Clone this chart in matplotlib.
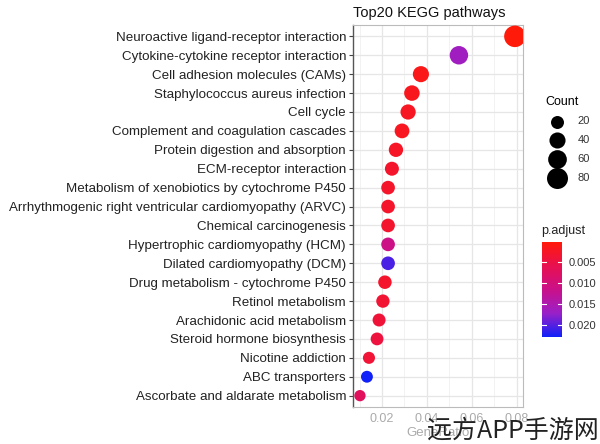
import numpy as np
import matplotlib
matplotlib.use('Agg')
import matplotlib.pyplot as plt
from matplotlib.colors import LinearSegmentedColormap, Normalize
from matplotlib.ticker import MultipleLocator

plt.rcParams['font.family'] = ['Liberation Sans', 'DejaVu Sans']

# KEGG terms, top to bottom
pathways = [
    'Neuroactive ligand-receptor interaction',
    'Cytokine-cytokine receptor interaction',
    'Cell adhesion molecules (CAMs)',
    'Staphylococcus aureus infection',
    'Cell cycle',
    'Complement and coagulation cascades',
    'Protein digestion and absorption',
    'ECM-receptor interaction',
    'Metabolism of xenobiotics by cytochrome P450',
    'Arrhythmogenic right ventricular cardiomyopathy (ARVC)',
    'Chemical carcinogenesis',
    'Hypertrophic cardiomyopathy (HCM)',
    'Dilated cardiomyopathy (DCM)',
    'Drug metabolism - cytochrome P450',
    'Retinol metabolism',
    'Arachidonic acid metabolism',
    'Steroid hormone biosynthesis',
    'Nicotine addiction',
    'ABC transporters',
    'Ascorbate and aldarate metabolism',
]
gene_ratio = [0.0791, 0.0542, 0.0373, 0.0333, 0.0316, 0.0289, 0.0262, 0.0244,
              0.0227, 0.0227, 0.0227, 0.0227, 0.0227, 0.0213, 0.0204, 0.0187,
              0.0178, 0.0142, 0.0133, 0.0102]
counts = [85, 58, 40, 36, 34, 31, 28, 26, 24, 24, 24, 24, 24, 23, 22, 20,
          19, 15, 14, 11]
p_adjust = [0.0002, 0.0165, 0.0015, 0.0018, 0.0022, 0.0020, 0.0025, 0.0030,
            0.0028, 0.0030, 0.0032, 0.0112, 0.0205, 0.0030, 0.0035, 0.0040,
            0.0045, 0.0038, 0.0229, 0.0072]

legend_counts = [20, 40, 60, 80]
cbar_ticks = [0.005, 0.010, 0.015, 0.020]

# red -> blue, roughly the Lab blend ggplot makes
cmap = LinearSegmentedColormap.from_list(
    'rb', ['#FF1A0A', '#E81050', '#CA1089', '#9A20C8', '#1020F8'])
norm = Normalize(vmin=min(p_adjust), vmax=max(p_adjust))


def dot_size(c):
    # area grows linearly with count (pt^2)
    return 40.4 + 2.35 * np.asarray(c)


fig = plt.figure(figsize=(6, 4.44), dpi=100)
ax = fig.add_axes([353 / 600, 1 - 407 / 444, 170 / 600, 382 / 444])

y = np.arange(len(pathways))[::-1]
ax.scatter(gene_ratio, y, s=dot_size(counts), c=p_adjust, cmap=cmap,
           norm=norm, linewidths=0, zorder=3)

ax.set_xlim(0.0071, 0.0827)
ax.set_ylim(-0.6, len(pathways) - 0.4)
ax.set_yticks(y)
ax.set_yticklabels(pathways, fontsize=9.6, color='#222222')
ax.xaxis.set_minor_locator(MultipleLocator(0.01))
ax.set_xticks([0.02, 0.04, 0.06, 0.08])
ax.set_xticklabels(['0.02', '0.04', '0.06', '0.08'], fontsize=9, color='#aaaaaa')
ax.tick_params(axis='y', length=3, width=0.8, color='#444444', pad=2)
ax.tick_params(axis='x', which='both', length=0, pad=4)
ax.grid(True, which='major', color='#e6e6e6', linewidth=0.9, zorder=0)
ax.grid(True, which='minor', axis='x', color='#f0f0f0', linewidth=0.6, zorder=0)
ax.set_axisbelow(True)
for side in ['top', 'right', 'bottom']:
    ax.spines[side].set_color('#bbbbbb')
    ax.spines[side].set_linewidth(0.8)
ax.spines['left'].set_color('#555555')
ax.spines['left'].set_linewidth(1.0)

ax.set_xlabel('GeneRatio', fontsize=9.5, color='#aaaaaa', labelpad=2)
ax.set_title('Top20 KEGG pathways', fontsize=10.5, loc='left', pad=6, color='#111111')

# Count legend
handles = [ax.scatter([], [], s=dot_size(c), c='black', linewidths=0)
           for c in legend_counts]
leg = fig.legend(handles, [str(c) for c in legend_counts], title='Count',
                 loc='upper left', bbox_to_anchor=(540 / 600, 1 - 90 / 444),
                 frameon=False, fontsize=8, title_fontsize=9,
                 labelspacing=0.8, handletextpad=0.9, borderpad=0)
leg._legend_box.align = 'left'
for t in leg.get_texts():
    t.set_color('#333333')

# p.adjust colour bar, red on top
cax = fig.add_axes([542 / 600, 1 - 337 / 444, 20 / 600, 95 / 444])
sm = plt.cm.ScalarMappable(norm=norm, cmap=cmap)
cb = fig.colorbar(sm, cax=cax, ticks=cbar_ticks)
cb.outline.set_visible(False)
cax.invert_yaxis()
cax.set_yticklabels(['0.005', '0.010', '0.015', '0.020'], fontsize=8, color='#333333')
cax.tick_params(length=0, pad=5)
for v in cbar_ticks:
    cax.plot([0, 0.2], [v, v], color='white', lw=0.8, transform=cax.get_yaxis_transform())
    cax.plot([0.8, 1], [v, v], color='white', lw=0.8, transform=cax.get_yaxis_transform())
fig.text(541 / 600, 1 - 231 / 444, 'p.adjust', fontsize=9, va='center', color='#222222')

# site watermark over the bottom right
fig.text(427 / 600, 1 - 438 / 444, '远方APP手游网', fontsize=18, color='#222222',
         va='baseline', family=['Noto Sans CJK SC', 'DejaVu Sans'])

fig.savefig('out.png', dpi=100)
